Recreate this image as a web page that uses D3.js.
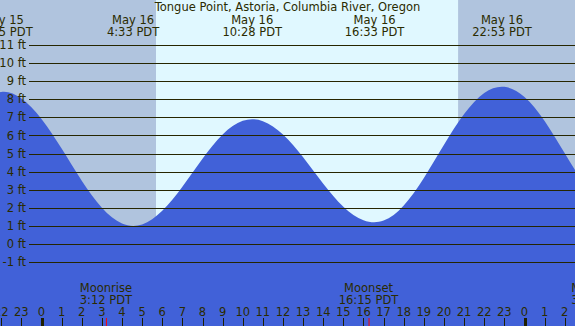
<!DOCTYPE html>
<html>
<head>
<meta charset="utf-8">
<script src="https://cdn.jsdelivr.net/npm/d3@7"></script>
<style>
  body { margin: 0; }
  svg { display: block; font-family: "DejaVu Sans", sans-serif; }
  text { fill: #2b2b00; }
</style>
</head>
<body>
<svg width="575" height="326"></svg>
<script>
  // hours counted from May 16 00:00 PDT
  var hours = [-3, -2, -1, 0, 1, 2, 3, 4, 5, 6, 7, 8, 9, 10, 11, 12, 13, 14, 15,
               16, 17, 18, 19, 20, 21, 22, 23, 24, 25, 26, 27];
  var heights = [7.85, 8.40, 8.04, 6.91, 5.27, 3.49, 2.00, 1.13, 1.08, 1.83, 3.16, 4.71, 6.05, 6.81, 6.79, 6.05,
                 4.79, 3.33, 2.06, 1.31, 1.29, 2.13, 3.65, 5.48, 7.18, 8.35, 8.69, 8.13, 6.80, 5.01, 3.21];

  var extremeHours = [-1.92, 4.55, 10.47, 16.55, 22.88];
  var extremeDays = ["May 15", "May 16", "May 16", "May 16", "May 16"];
  var extremeTimes = ["22:05 PDT", "4:33 PDT", "10:28 PDT", "16:33 PDT", "22:53 PDT"];

  var sunrise = 5.69, sunset = 20.70;

  var moonHours = [3.2, 16.25, 27.62];
  var moonNames = ["Moonrise", "Moonset", "Moonrise"];
  var moonTimes = ["3:12 PDT", "16:15 PDT", "3:37 PDT"];

  var feet = d3.range(-1, 12);
  var tickHours = d3.range(-2, 27);

  var title = "Tongue Point, Astoria, Columbia River, Oregon";

  var svg = d3.select("svg"),
      width = +svg.attr("width"),
      height = +svg.attr("height");

  var x = d3.scaleLinear().domain([0, 24]).range([41.5, 524.5]),
      y = d3.scaleLinear().domain([-1, 11]).range([262, 45]);

  // day / night background
  svg.append("rect")
      .attr("width", width).attr("height", height)
      .attr("fill", "#b0c4de");
  svg.append("rect")
      .attr("x", x(sunrise)).attr("width", x(sunset) - x(sunrise))
      .attr("height", height)
      .attr("fill", "#e0f8ff");

  var area = d3.area()
      .curve(d3.curveNatural)
      .x(function(d, i) { return x(hours[i]); })
      .y0(height)
      .y1(function(d) { return y(d); });

  svg.append("path")
      .datum(heights)
      .attr("d", area)
      .attr("fill", "#4161d8");

  // height grid
  svg.selectAll(".grid")
      .data(feet)
      .enter().append("line")
      .attr("class", "grid")
      .attr("x1", 29).attr("x2", width)
      .attr("y1", function(d) { return Math.round(y(d)) + 0.5; })
      .attr("y2", function(d) { return Math.round(y(d)) + 0.5; })
      .attr("stroke", "#262600")
      .attr("stroke-width", 1);

  svg.selectAll(".ylab")
      .data(feet)
      .enter().append("text")
      .attr("class", "ylab")
      .attr("x", 26)
      .attr("y", function(d) { return y(d); })
      .attr("dy", "0.36em")
      .attr("text-anchor", "end")
      .style("font-size", "11.5px")
      .text(function(d) { return d + " ft"; });

  svg.append("text")
      .attr("x", width / 2)
      .attr("y", 11)
      .attr("text-anchor", "middle")
      .style("font-size", "11.5px")
      .text(title);

  var ext = svg.selectAll(".ext")
      .data(extremeHours)
      .enter().append("g")
      .attr("class", "ext")
      .attr("transform", function(d) { return "translate(" + x(d) + ",0)"; });

  ext.append("text")
      .attr("y", 24)
      .attr("text-anchor", "middle")
      .style("font-size", "11.5px")
      .text(function(d, i) { return extremeDays[i]; });

  ext.append("text")
      .attr("y", 36)
      .attr("text-anchor", "middle")
      .style("font-size", "11.5px")
      .text(function(d, i) { return extremeTimes[i]; });

  // hour axis
  svg.selectAll(".tick")
      .data(tickHours)
      .enter().append("line")
      .attr("class", "tick")
      .attr("x1", function(d) { return Math.round(x(d)) + 0.5; })
      .attr("x2", function(d) { return Math.round(x(d)) + 0.5; })
      .attr("y1", 318).attr("y2", height)
      .attr("stroke", "#1e1e00")
      .attr("stroke-width", function(d) { return d % 24 === 0 ? 3 : 1; });

  svg.selectAll(".xlab")
      .data(tickHours)
      .enter().append("text")
      .attr("class", "xlab")
      .attr("x", function(d) { return x(d); })
      .attr("y", 316)
      .attr("text-anchor", "middle")
      .style("font-size", "11.5px")
      .text(function(d) { return (d + 24) % 24; });

  var moon = svg.selectAll(".moon")
      .data(moonHours)
      .enter().append("g")
      .attr("class", "moon")
      .attr("transform", function(d) { return "translate(" + x(d) + ",0)"; });

  moon.append("line")
      .attr("x1", 0.5).attr("x2", 0.5)
      .attr("y1", 318).attr("y2", height)
      .attr("stroke", "#ff0000");

  moon.append("text")
      .attr("y", 292)
      .attr("text-anchor", "middle")
      .style("font-size", "11.5px")
      .text(function(d, i) { return moonNames[i]; });

  moon.append("text")
      .attr("y", 304)
      .attr("text-anchor", "middle")
      .style("font-size", "11.5px")
      .text(function(d, i) { return moonTimes[i]; });
</script>
</body>
</html>
